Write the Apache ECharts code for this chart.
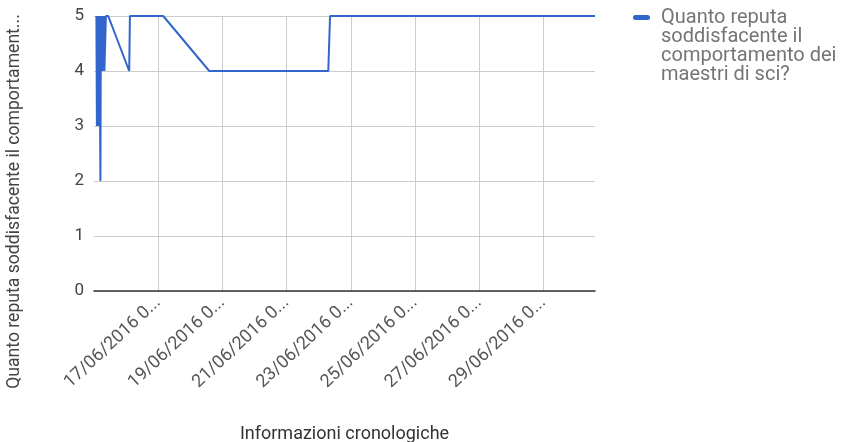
<!DOCTYPE html>
<html><head><meta charset="utf-8">
<script src="https://cdn.jsdelivr.net/npm/echarts@6/dist/echarts.min.js"></script>
<style>html,body{margin:0;padding:0;background:#fff}#c{width:849px;height:442px}</style>
</head><body><div id="c"></div>
<script>
const seriesName = 'Quanto reputa soddisfacente il comportamento dei maestri di sci?';
const yAxisTitle = 'Quanto reputa soddisfacente il comportament...';
const xAxisTitle = 'Informazioni cronologiche';
const originDate = '15/06/2016 00:00';
const timestamps = [
  '15/06/2016 01:48','15/06/2016 02:10','15/06/2016 02:33','15/06/2016 02:53',
  '15/06/2016 03:17','15/06/2016 03:39','15/06/2016 04:02','15/06/2016 04:48',
  '15/06/2016 05:10','15/06/2016 05:31','15/06/2016 05:54','15/06/2016 06:14',
  '15/06/2016 06:39','15/06/2016 07:02','15/06/2016 07:23','15/06/2016 07:47',
  '15/06/2016 08:31','15/06/2016 08:54','15/06/2016 09:36','15/06/2016 10:38',
  '16/06/2016 02:20','16/06/2016 02:51','17/06/2016 03:46','18/06/2016 14:11',
  '22/06/2016 07:12','22/06/2016 08:30','30/06/2016 14:38'
];
const values = [
  5,3,5,4,
  5,3,5,2,
  5,4,5,4,
  5,4,5,4,
  4,5,5,5,
  4,5,5,4,
  4,5,5
];
const xTickLabels = ['17/06/2016 0...','19/06/2016 0...','21/06/2016 0...','23/06/2016 0...','25/06/2016 0...','27/06/2016 0...','29/06/2016 0...'];
const yTicks = [0,1,2,3,4,5];

function parseTs(s){
  const [d, t] = s.split(' ');
  const [dd, mm, yy] = d.split('/').map(Number);
  const [hh, mi] = t.split(':').map(Number);
  return Date.UTC(yy, mm - 1, dd, hh, mi);
}
const DAY = 86400000;
const t0 = parseTs(originDate);
const seriesData = timestamps.map((s, i) => [(parseTs(s) - t0) / DAY, values[i]]);

function wrap(s, n){
  const w = s.split(' '); const lines = []; let cur = '';
  for (const x of w){
    if (cur && (cur + ' ' + x).length > n){ lines.push(cur); cur = x; }
    else cur = cur ? cur + ' ' + x : x;
  }
  lines.push(cur);
  return lines.join('\n');
}

const chart = echarts.init(document.getElementById('c'));
chart.setOption({
  animation: false,
  textStyle: {fontFamily: 'Roboto'},
  grid: {left: 94, right: 254, top: 16, bottom: 151, containLabel: false, outerBoundsMode: 'none'},
  legend: {
    orient: 'vertical', left: 633, top: 7.5, padding: 0,
    icon: 'path://M0,0L0,0M2.5,7L14.5,7A2.5,2.5,0,0,1,14.5,12L2.5,12A2.5,2.5,0,0,1,2.5,7ZM17,76L17,76',
    itemWidth: 17, itemHeight: 76,
    itemStyle: {borderWidth: 0},
    textStyle: {fontSize: 20, lineHeight: 19, color: '#757575', padding: [0, 0, 0, 6], fontFamily: 'Roboto'},
    formatter: name => wrap(name, 17),
    data: [seriesName]
  },
  xAxis: {
    type: 'value', min: 0, max: 'dataMax', interval: 2,
    name: xAxisTitle, nameLocation: 'middle', nameGap: 134,
    nameTextStyle: {fontSize: 18, color: '#333', fontFamily: 'Roboto'},
    axisLine: {show: true, lineStyle: {color: '#333', width: 1.5}},
    axisTick: {show: false},
    axisLabel: {
      rotate: 43, margin: 9, fontSize: 18, color: '#555', fontFamily: 'Roboto',
      showMinLabel: false, showMaxLabel: false,
      formatter: v => { const i = Math.round(v / 2) - 1; return (i >= 0 && i < xTickLabels.length) ? xTickLabels[i] : ''; }
    },
    splitLine: {show: true, showMinLine: false, showMaxLine: false, lineStyle: {color: '#cccccc', width: 1}}
  },
  yAxis: {
    type: 'value', min: yTicks[0], max: yTicks[yTicks.length - 1], interval: 1,
    name: yAxisTitle, nameLocation: 'middle', nameGap: 70,
    nameTextStyle: {fontSize: 17.6, color: '#444', fontFamily: 'Roboto', padding: [0, 96, 0, 0]},
    axisLine: {show: false}, axisTick: {show: false},
    axisLabel: {fontSize: 17, color: '#444', margin: 10, fontFamily: 'Roboto'},
    splitLine: {lineStyle: {color: '#cccccc', width: 1}}
  },
  series: [{
    name: seriesName, type: 'line', data: seriesData,
    symbol: 'none', showSymbol: false,
    lineStyle: {color: '#3366cc', width: 2},
    itemStyle: {color: '#3366cc'}
  }]
});
</script></body></html>
